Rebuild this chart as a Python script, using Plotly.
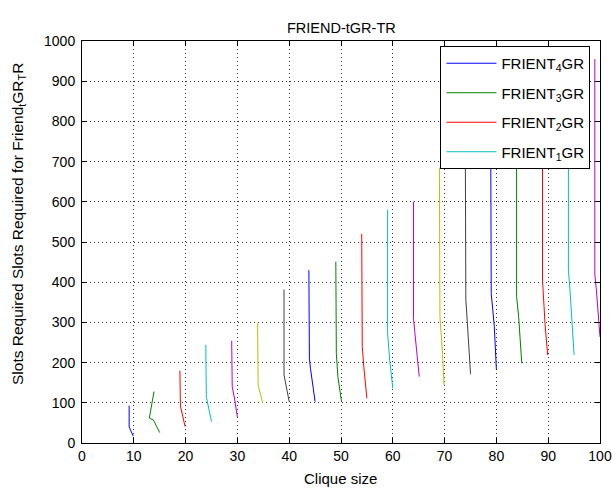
import plotly.graph_objects as go

# Data: each segment of the chart (clique-size x positions and slot counts)
seg_x = [
    [9.1, 9.1, 9.9],
    [13.9, 13.0, 13.8, 15.0],
    [18.9, 19.0, 19.9],
    [23.9, 24.0, 25.0],
    [28.9, 29.0, 29.5, 30.0],
    [33.9, 34.0, 34.9],
    [39.0, 39.0, 40.0],
    [43.8, 43.9, 44.1, 45.0],
    [49.0, 49.1, 49.4, 50.1],
    [54.0, 54.1, 54.4, 55.0],
    [59.0, 59.0, 59.4, 60.0],
    [64.0, 64.0, 64.3, 65.1],
    [69.0, 69.1, 69.6, 69.9],
    [74.0, 74.1, 74.4, 75.0],
    [78.9, 79.0, 79.3, 79.6, 80.0],
    [83.9, 83.9, 84.3, 84.5, 84.9],
    [88.9, 88.9, 89.2, 89.4, 89.9],
    [93.9, 93.9, 94.2, 94.5, 95.0],
    [99.0, 99.0, 99.3, 99.6, 100.0],
]
seg_y = [
    [93, 40, 17],
    [128, 62, 57, 26],
    [180, 92, 41],
    [244, 115, 53],
    [254, 140, 107, 64],
    [298, 144, 99],
    [382, 169, 103],
    [430, 211, 186, 103],
    [451, 223, 165, 103],
    [520, 240, 190, 111],
    [580, 273, 206, 136],
    [600, 310, 269, 165],
    [685, 314, 223, 144],
    [730, 356, 298, 172],
    [780, 372, 331, 289, 182],
    [820, 364, 314, 264, 198],
    [870, 405, 339, 294, 219],
    [910, 430, 381, 323, 219],
    [955, 420, 381, 331, 264],
]
legend_labels = ["FRIENT<sub>4</sub>GR", "FRIENT<sub>3</sub>GR",
                 "FRIENT<sub>2</sub>GR", "FRIENT<sub>1</sub>GR"]
color_cycle = ["#0000FF", "#008000", "#FF0000", "#00BFBF",
               "#BF00BF", "#BFBF00", "#404040"]
x_ticks = list(range(0, 101, 10))
y_ticks = list(range(0, 1001, 100))
title_text = "FRIEND-tGR-TR"
x_label = "Clique size"
y_label = "Slots Required Slots Required for Friend<sub>t</sub>GR<sub>T</sub>R"

FAM = "Liberation Sans, Arial, sans-serif"

fig = go.Figure()
for i, (xs, ys) in enumerate(zip(seg_x, seg_y)):
    show = i < len(legend_labels)
    fig.add_trace(go.Scatter(
        x=xs, y=ys, mode="lines",
        line=dict(color=color_cycle[i % len(color_cycle)], width=1),
        name=legend_labels[i] if show else f"s{i}",
        showlegend=show,
        legendgroup=f"g{i}",
    ))

tick_font = dict(family=FAM, size=14, color="black")
axis_common = dict(
    showline=True, linecolor="black", linewidth=1, mirror="ticks",
    ticks="inside", ticklen=5, tickcolor="black",
    showgrid=True, gridcolor="#333333", griddash="1px,3px", gridwidth=1,
    zeroline=False, tickfont=tick_font, automargin=False,
)
fig.update_xaxes(range=[0, 100], tickvals=x_ticks, **axis_common)
fig.update_yaxes(range=[0, 1000], tickvals=y_ticks, ticklabelstandoff=3, **axis_common)

fig.update_layout(
    width=612, height=491,
    margin=dict(l=82, r=12, t=41, b=48, autoexpand=False),
    paper_bgcolor="white", plot_bgcolor="white",
    font=tick_font,
    showlegend=True,
    legend=dict(x=0.692, y=0.9876, xanchor="left", yanchor="top",
                bgcolor="white", bordercolor="black", borderwidth=1,
                font=dict(family=FAM, size=15, color="black"),
                itemwidth=50, tracegroupgap=7),
    annotations=[
        dict(text=title_text, xref="paper", yref="paper",
             x=0.5, y=(443 - 28) / 402, xanchor="center", yanchor="middle",
             showarrow=False, font=dict(family=FAM, size=14.5, color="black")),
        dict(text=x_label, xref="paper", yref="paper",
             x=(340 - 82) / 518, y=(443 - 478) / 402, xanchor="center", yanchor="middle",
             showarrow=False, font=dict(family=FAM, size=15, color="black")),
        dict(text=y_label, xref="paper", yref="paper", textangle=-90,
             x=(18 - 82) / 518, y=(443 - 224) / 402, xanchor="center", yanchor="middle",
             showarrow=False, font=dict(family=FAM, size=15.5, color="black")),
    ],
)

# remove the default page margin so the figure fills the window exactly
fig.write_html("out.html",
               config={"displayModeBar": False},
               post_script="document.body.style.margin='0';document.body.style.overflow='hidden';")
